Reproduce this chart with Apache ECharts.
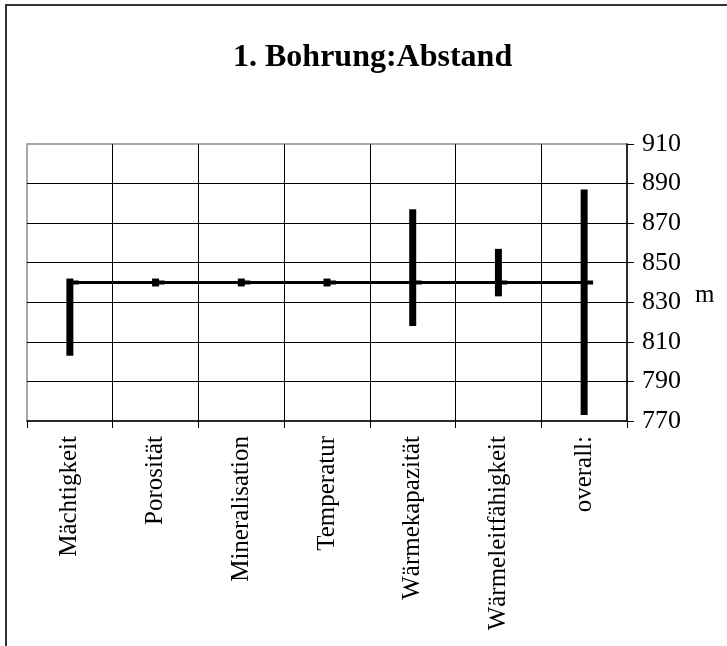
<!DOCTYPE html>
<html>
<head>
<meta charset="utf-8">
<script src="https://cdn.jsdelivr.net/npm/echarts@6/dist/echarts.min.js"></script>
<style>
  html, body { margin: 0; padding: 0; background: #fff; }
  #chart { width: 727px; height: 646px; }
</style>
</head>
<body>
<div id="chart"></div>
<script>
// Distance ranges per parameter (m)
const categories = ['Mächtigkeit', 'Porosität', 'Mineralisation', 'Temperatur', 'Wärmekapazität', 'Wärmeleitfähigkeit', 'overall:'];
const lowValues = [803, 838, 838, 838, 818, 833, 773];
const highValues = [842, 842, 842, 842, 877, 857, 887];
const closeValues = [840, 840, 840, 840, 840, 840, 840];
const yTicks = [770, 790, 810, 830, 850, 870, 890, 910];

const serif = '"Liberation Serif", "Times New Roman", serif';

const rangeData = categories.map((c, i) => [i, lowValues[i], highValues[i], closeValues[i]]);

const chart = echarts.init(document.getElementById('chart'), null, { renderer: 'canvas' });

chart.setOption({
  animation: false,
  backgroundColor: '#fff',
  title: {
    text: '1. Bohrung:Abstand',
    left: 228,
    top: 37,
    textStyle: { fontFamily: serif, fontWeight: 'bold', fontSize: 32, color: '#000' }
  },
  graphic: [
    {
      type: 'rect',
      shape: { x: 6, y: 5, width: 900, height: 900 },
      style: { fill: 'none', stroke: '#333', lineWidth: 2 },
      silent: true
    },
    {
      type: 'text',
      left: 695,
      top: 283,
      style: { text: 'm', font: '25px ' + serif, fill: '#000' }
    }
  ],
  grid: {
    left: 27,
    right: 100,
    top: 144,
    bottom: 225,
    show: true,
    borderColor: '#8c8c8c',
    borderWidth: 1.5,
    backgroundColor: 'transparent'
  },
  xAxis: {
    type: 'category',
    data: categories,
    boundaryGap: true,
    axisLine: { show: true, lineStyle: { color: '#000', width: 1.5 } },
    axisTick: { show: true, length: 7, alignWithLabel: false, lineStyle: { color: '#000', width: 1 } },
    splitLine: { show: true, showMinLine: false, showMaxLine: false, lineStyle: { color: '#000', width: 1 } },
    axisLabel: {
      rotate: 90,
      interval: 0,
      margin: 15,
      fontFamily: serif,
      fontSize: 25,
      color: '#000'
    }
  },
  yAxis: {
    type: 'value',
    position: 'right',
    min: 770,
    max: 910,
    interval: 20,
    axisLine: { show: true, lineStyle: { color: '#000', width: 1.5 } },
    axisTick: { show: true, inside: false, length: 7, lineStyle: { color: '#000', width: 1 } },
    splitLine: { show: true, showMinLine: false, showMaxLine: false, lineStyle: { color: '#000', width: 1 } },
    axisLabel: {
      margin: 15,
      fontFamily: serif,
      fontSize: 26,
      color: '#000',
      formatter: v => (yTicks.includes(v) ? String(v) : '')
    }
  },
  series: [
    {
      type: 'line',
      data: closeValues,
      symbol: 'none',
      lineStyle: { color: '#000', width: 3 },
      z: 3
    },
    {
      type: 'custom',
      data: rangeData,
      z: 4,
      renderItem: function (params, api) {
        const x = api.value(0);
        const top = api.coord([x, api.value(2)]);
        const bottom = api.coord([x, api.value(1)]);
        const close = api.coord([x, api.value(3)]);
        const barW = 7;
        return {
          type: 'group',
          children: [
            {
              type: 'rect',
              shape: { x: top[0] - barW / 2, y: top[1], width: barW, height: bottom[1] - top[1] },
              style: { fill: '#000' }
            },
            {
              type: 'rect',
              shape: { x: close[0], y: close[1] - 2, width: 9, height: 4 },
              style: { fill: '#000' }
            }
          ]
        };
      }
    }
  ]
});
</script>
</body>
</html>
